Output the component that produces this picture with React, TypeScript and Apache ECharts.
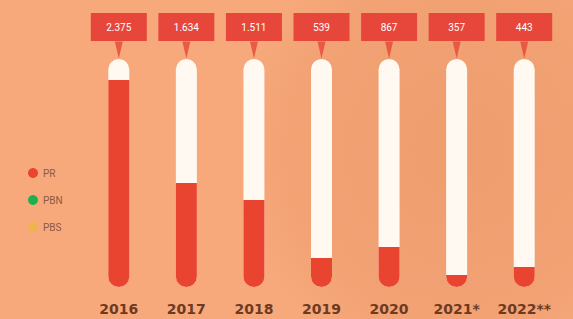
import React, { useEffect, useRef } from "react";
import * as echarts from "echarts";

const years = ["2016", "2017", "2018", "2019", "2020", "2021*", "2022**"];
const labelValues = ["2.375", "1.634", "1.511", "539", "867", "357", "443"];
// fill level of each tube, in percent of the tube
const fillLevels = [90.8, 45.6, 38.2, 12.7, 17.5, 5.3, 8.8];
const trackFull = [100, 100, 100, 100, 100, 100, 100];
const legendNames = ["PR", "PBN", "PBS"];
const legendColors = ["#e8503a", "#1db14d", "#f0b24e"];

export default function App() {
  const ref = useRef<HTMLDivElement>(null);
  useEffect(() => {
    if (!ref.current) return;
    const chart = echarts.init(ref.current, undefined, { renderer: "svg" });
    const red = "#e8442f";
    chart.setOption({
      animation: false,
      backgroundColor: "#f8a97b",
      graphic: [
        {
          type: "circle",
          shape: { cx: 460, cy: 150, r: 230 },
          style: {
            fill: new echarts.graphic.RadialGradient(0.5, 0.5, 0.5, [
              { offset: 0, color: "rgba(200,115,65,0.22)" },
              { offset: 0.7, color: "rgba(200,115,65,0.14)" },
              { offset: 1, color: "rgba(200,115,65,0)" },
            ]),
          },
          silent: true,
          z: -10,
        },
      ],
      legend: {
        orient: "vertical",
        left: 23,
        top: 163,
        icon: "circle",
        itemWidth: 10,
        itemHeight: 10,
        itemGap: 17,
        selectedMode: false,
        data: legendNames,
        textStyle: { fontSize: 10, color: "#8a5a44", fontFamily: "Roboto" },
      },
      grid: { left: 85, right: 15, top: 59, bottom: 32 },
      xAxis: {
        type: "category",
        data: years,
        axisLine: { show: false },
        axisTick: { show: false },
        axisLabel: {
          interval: 0,
          hideOverlap: false,
          margin: 15,
          fontSize: 14,
          fontWeight: "bold",
          fontFamily: "DejaVu Sans",
          color: "#6e3a22",
        },
      },
      yAxis: { type: "value", min: 0, max: 100, show: false, splitLine: { show: false } },
      series: [
        {
          name: "track",
          type: "bar",
          data: trackFull,
          barWidth: 21,
          barGap: "-100%",
          itemStyle: { color: "#fff9f2", borderRadius: 10.5 },
          label: {
            show: true,
            position: "top",
            distance: 18,
            formatter: (p: any) => labelValues[p.dataIndex],
            backgroundColor: "#e6473a",
            color: "#ffffff",
            fontSize: 10,
            fontFamily: "Roboto",
            width: 56,
            align: "center",
            lineHeight: 12,
            padding: [8, 0, 8, 0],
          },
          z: 2,
        },
        {
          name: "PR",
          type: "bar",
          data: fillLevels,
          barWidth: 21,
          barGap: "-100%",
          itemStyle: { color: red, borderRadius: [0, 0, 10.5, 10.5] },
          z: 3,
        },
        {
          name: "pointer",
          type: "scatter",
          data: trackFull,
          symbol: "triangle",
          symbolRotate: 180,
          symbolSize: [8, 17],
          symbolOffset: [0, -9],
          itemStyle: { color: "#e6473a" },
          silent: true,
          z: 1,
        },
        { name: "PBN", type: "line", data: [], color: legendColors[1], itemStyle: { color: legendColors[1] } },
        { name: "PBS", type: "line", data: [], color: legendColors[2], itemStyle: { color: legendColors[2] } },
      ],
      color: legendColors,
    });
    return () => chart.dispose();
  }, []);
  return (
    <div
      ref={ref}
      style={{ position: "absolute", left: 0, top: 0, width: 573, height: 319 }}
    />
  );
}
